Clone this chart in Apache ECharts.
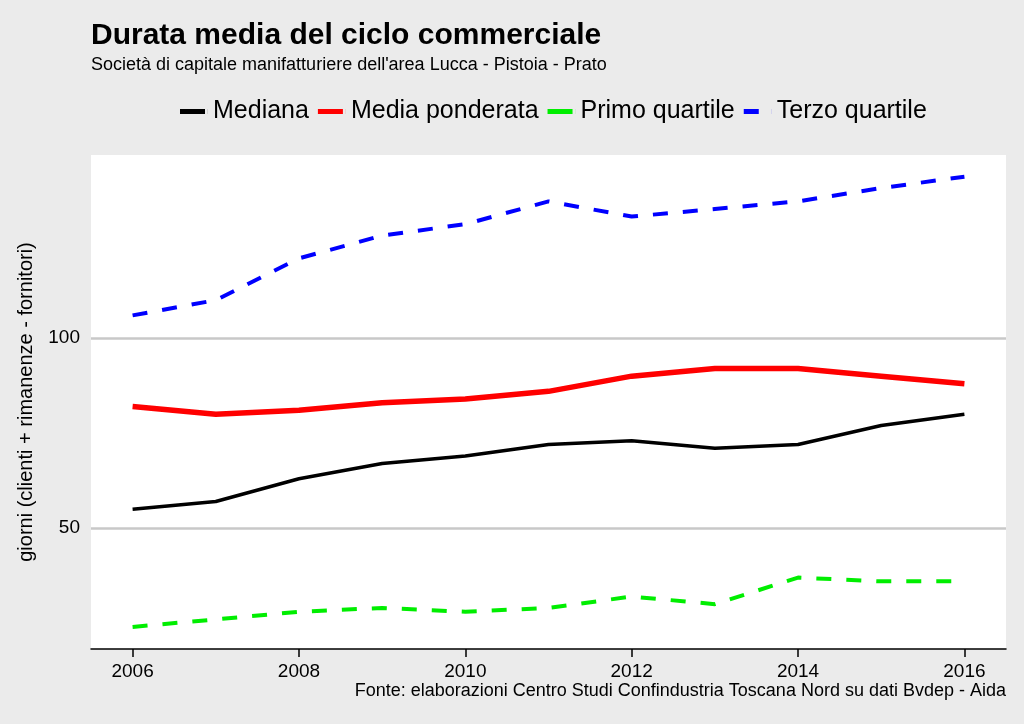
<!DOCTYPE html>
<html>
<head>
<meta charset="utf-8">
<script src="https://cdn.jsdelivr.net/npm/echarts@6/dist/echarts.min.js"></script>
<style>
html,body{margin:0;padding:0;background:#ebebeb;}
#chart{width:1024px;height:724px;}
</style>
</head>
<body>
<div id="chart"></div>
<script>
const years = ['2006','2007','2008','2009','2010','2011','2012','2013','2014','2015','2016'];
const mediana = [55, 57, 63, 67, 69, 72, 73, 71, 72, 77, 80];
const mediaPonderata = [82, 80, 81, 83, 84, 86, 90, 92, 92, 90, 88];
const primoQuartile = [24, 26, 28, 29, 28, 29, 32, 30, 37, 36, 36];
const terzoQuartile = [106, 110, 121, 127, 130, 136, 132, 134, 136, 139.5, 142.5];
const yTicks = [50, 100];

const FONT = 'Liberation Sans, Arial, sans-serif';
const SOLID_ICON = 'path://M0,0L25,0L25,5L0,5Z M27.9,0L28,0L28,5L27.9,5Z';
const DASH_ICON = 'path://M0,0L15,0L15,5L0,5Z M27.9,0L28,0L28,5L27.9,5Z';
const chart = echarts.init(document.getElementById('chart'));
chart.setOption({
  backgroundColor: '#ebebeb',
  animation: false,
  title: {
    text: 'Durata media del ciclo commerciale',
    subtext: "Società di capitale manifatturiere dell'area Lucca - Pistoia - Prato",
    left: 86, top: 16,
    itemGap: 5,
    textStyle: {fontFamily: FONT, fontSize: 30, fontWeight: 'bold', color: '#000'},
    subtextStyle: {fontFamily: FONT, fontSize: 18, color: '#000'}
  },
  legend: {
    left: 175, top: 94,
    itemWidth: 28, itemHeight: 5, itemGap: 9,
    icon: SOLID_ICON,
    textStyle: {fontFamily: FONT, fontSize: 25, color: '#000'},
    data: [
      {name: 'Mediana', itemStyle: {color: '#000000'}},
      {name: 'Media ponderata', itemStyle: {color: '#ff0000'}},
      {name: 'Primo quartile', itemStyle: {color: '#00ee00'}},
      {name: 'Terzo quartile', itemStyle: {color: '#0000ff'}, icon: DASH_ICON}
    ]
  },
  grid: {left: 91, right: 18, top: 155, bottom: 75, show: true, backgroundColor: '#ffffff', borderWidth: 0},
  xAxis: {
    type: 'category',
    data: years,
    boundaryGap: true,
    axisLine: {show: true, lineStyle: {color: '#000', width: 1.5}},
    axisTick: {show: true, alignWithLabel: true, interval: 1, length: 8, lineStyle: {color: '#000', width: 1.5}},
    axisLabel: {interval: 1, margin: 13, fontFamily: FONT, fontSize: 19, color: '#000'},
    splitLine: {show: false}
  },
  yAxis: {
    type: 'value',
    min: 18.2, max: 148.2,
    name: 'giorni (clienti + rimanenze - fornitori)',
    nameLocation: 'middle',
    nameGap: 55,
    nameTextStyle: {fontFamily: FONT, fontSize: 20, color: '#000'},
    axisLine: {show: false},
    axisTick: {show: false},
    splitLine: {show: false},
    axisLabel: {customValues: yTicks, margin: 11, fontFamily: FONT, fontSize: 19, color: '#000'}
  },
  graphic: [{
    type: 'text',
    right: 18, top: 682,
    style: {text: 'Fonte: elaborazioni Centro Studi Confindustria Toscana Nord su dati Bvdep - Aida', font: '18px ' + FONT, fill: '#000'}
  }],
  series: [
    {
      name: 'Mediana', type: 'line', data: mediana, symbol: 'none',
      lineStyle: {color: '#000000', width: 3.5}, itemStyle: {color: '#000000'},
      z: 3,
      markLine: {
        silent: true, symbol: 'none', label: {show: false}, z: 1,
        lineStyle: {color: '#c8c8c8', width: 2.5, type: 'solid'},
        data: yTicks.map(v => ({yAxis: v}))
      }
    },
    {
      name: 'Media ponderata', type: 'line', data: mediaPonderata, symbol: 'none',
      lineStyle: {color: '#ff0000', width: 5.5}, itemStyle: {color: '#ff0000'}, z: 3
    },
    {
      name: 'Primo quartile', type: 'line', data: primoQuartile, symbol: 'none',
      lineStyle: {color: '#00ee00', width: 4, type: [15, 15]}, itemStyle: {color: '#00ee00'}, z: 3
    },
    {
      name: 'Terzo quartile', type: 'line', data: terzoQuartile, symbol: 'none',
      lineStyle: {color: '#0000ff', width: 4, type: [15, 15]}, itemStyle: {color: '#0000ff'}, z: 3
    }
  ]
});
</script>
</body>
</html>
